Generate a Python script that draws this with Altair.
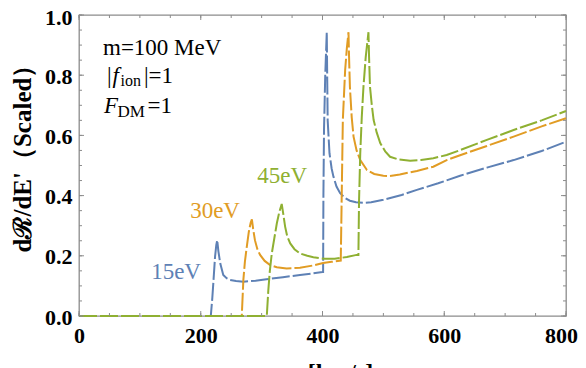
import altair as alt
import pandas as pd

# ---------------- data ----------------
series_names = ["15eV", "30eV", "45eV"]
series_colors = ["#5E81B5", "#E19C24", "#8FB032"]

blue_v = [0, 216.5, 219, 221, 223.5, 225.5, 227, 229, 232, 237, 243, 248, 258, 270, 290,
          308, 335, 363, 385, 400, 401, 401.5, 402.5, 404.5, 407, 407.7, 408.5, 411.5, 415,
          418, 423, 429, 437, 445, 455, 467, 480, 500, 530, 555, 590, 626, 670, 714, 760, 800]
blue_y = [0, 0, 0.06, 0.12, 0.197, 0.235, 0.252, 0.215, 0.175, 0.136, 0.125, 0.12, 0.116,
          0.114, 0.117, 0.122, 0.129, 0.136, 0.142, 0.146, 0.146, 0.40, 0.62, 0.80, 0.943,
          0.80, 0.65, 0.54, 0.49, 0.463, 0.43, 0.408, 0.392, 0.383, 0.378, 0.376, 0.378,
          0.386, 0.402, 0.419, 0.441, 0.466, 0.493, 0.518, 0.548, 0.579]

orange_v = [0, 267.4, 270, 272.5, 275.6, 279, 282, 284, 286, 289, 293, 297.5, 305, 314, 325,
            341, 363, 385, 401, 415, 430, 431.8, 433.4, 437.2, 440, 442.7, 443.5, 445, 448,
            451, 456, 462, 473, 485, 500, 510, 527, 555, 582, 604, 626, 670, 714, 760, 800]
orange_y = [0, 0, 0.12, 0.18, 0.23, 0.28, 0.31, 0.321, 0.29, 0.252, 0.222, 0.203, 0.183,
            0.169, 0.162, 0.158, 0.16, 0.168, 0.176, 0.18, 0.184, 0.43, 0.651, 0.817, 0.89,
            0.943, 0.87, 0.762, 0.66, 0.596, 0.55, 0.518, 0.485, 0.472, 0.466, 0.465, 0.47,
            0.482, 0.496, 0.518, 0.534, 0.565, 0.596, 0.63, 0.657]

green_v = [0, 308.5, 311, 313.5, 316.7, 321, 325, 329, 333, 335.5, 338.6, 342, 347, 354, 363,
           375, 385, 404, 420, 440, 456, 459, 460, 462, 464.5, 467.3, 471, 475.5, 476.5, 478,
           481, 484, 489, 495, 503, 511, 525, 544, 562, 582, 604, 626, 670, 714, 760, 800]
green_y = [0, 0, 0.086, 0.15, 0.208, 0.26, 0.308, 0.345, 0.372, 0.34, 0.297, 0.265, 0.241,
           0.222, 0.208, 0.2, 0.195, 0.19, 0.19, 0.196, 0.203, 0.203, 0.38, 0.54, 0.66, 0.762,
           0.86, 0.943, 0.86, 0.762, 0.7, 0.651, 0.61, 0.574, 0.547, 0.529, 0.52, 0.516, 0.518,
           0.524, 0.535, 0.551, 0.585, 0.618, 0.65, 0.681]

label_v = [159.4, 223.5, 333.7]
label_val = [0.146, 0.349, 0.465]

x_tick_labels = [0, 200, 400, 600, 800]
y_tick_labels = [0.0, 0.2, 0.4, 0.6, 0.8, 1.0]
x_minor = [0, 50, 100, 150, 200, 250, 300, 350, 400, 450, 500, 550, 600, 650, 700, 750, 800]
y_minor = [0.0, 0.05, 0.1, 0.15, 0.2, 0.25, 0.3, 0.35, 0.4, 0.45, 0.5, 0.55, 0.6, 0.65,
           0.7, 0.75, 0.8, 0.85, 0.9, 0.95, 1.0]

# ---------------- chart ----------------
W, H = 487, 301
GRAY = "#8c8c8c"
SERIF = "Liberation Serif"

rows = []
for name, vs, ys in [(series_names[0], blue_v, blue_y),
                     (series_names[1], orange_v, orange_y),
                     (series_names[2], green_v, green_y)]:
    for i, (a, b) in enumerate(zip(vs, ys)):
        rows.append({"series": name, "v": a, "val": b, "i": i})
df = pd.DataFrame(rows)

xscale = alt.Scale(domain=[0, 800], nice=False, zero=False)
yscale = alt.Scale(domain=[0, 1], nice=False)
cscale = alt.Scale(domain=series_names, range=series_colors)

xaxis = alt.Axis(values=x_tick_labels, format="d", title="v [km/s]",
                 titleX=252, titleY=44, titleBaseline="top", titleAlign="center",
                 labelOffset={"condition": {"test": "datum.value === 800", "value": -5},
                              "value": 0},
                 ticks=False, domain=False, grid=False, labelPadding=9, labelFlush=False)
yaxis = alt.Axis(values=y_tick_labels, format=".1f", title="dℛ/dE'（Scaled）",
                 titleX=-57, titleY=137, titleAngle=270, titleBaseline="middle",
                 titleAlign="center", titleFontSize=25,
                 labelOffset={"condition": {"test": "datum.value === 1", "value": 2},
                              "value": 1},
                 ticks=False, domain=False, grid=False, labelPadding=7, labelFlush=False)


def X():
    return alt.X("v:Q", scale=xscale, axis=xaxis)


def Y():
    return alt.Y("val:Q", scale=yscale, axis=yaxis)


lines = alt.Chart(df).mark_line(strokeWidth=2, strokeDash=[18, 3]).encode(
    x=X(), y=Y(),
    color=alt.Color("series:N", scale=cscale, legend=None),
    order=alt.Order("i:Q"),
)


def xticks(vals, y0, y1):
    return alt.Chart(pd.DataFrame({"v": vals})).mark_rule(color=GRAY, strokeWidth=1).encode(
        x=X(), y=alt.value(y0), y2=alt.value(y1))


def yticks(vals, x0, x1):
    return alt.Chart(pd.DataFrame({"val": vals})).mark_rule(color=GRAY, strokeWidth=1).encode(
        y=Y(), x=alt.value(x0), x2=alt.value(x1))


tick_layers = [
    xticks(x_minor, H, H - 3), xticks(x_tick_labels, H, H - 5),
    xticks(x_minor, 0, 3), xticks(x_tick_labels, 0, 5),
    yticks(y_minor, 0, 3), yticks(y_tick_labels, 0, 5),
    yticks(y_minor, W, W - 3), yticks(y_tick_labels, W, W - 5),
]

labels = alt.Chart(pd.DataFrame({"series": series_names, "v": label_v, "val": label_val})).mark_text(
    font=SERIF, fontSize=23, baseline="middle", align="center").encode(
    x=X(), y=Y(),
    text="series:N",
    color=alt.Color("series:N", scale=cscale, legend=None),
)


def piece(txt, x, y, size=23, style="normal"):
    return alt.Chart(pd.DataFrame({"t": [txt]})).mark_text(
        font=SERIF, fontSize=size, fontStyle=style, baseline="alphabetic", align="left",
        color="black").encode(x=alt.value(x), y=alt.value(y), text="t:N")


info = [
    piece("m=100 MeV", 24, 39.5),
    piece("|", 28, 67.7),
    piece("f", 33.5, 67.7, style="italic"),
    piece("ion", 41.5, 70.5, size=16),
    piece("|=1", 65, 67.7),
    piece("F", 25, 97.7, style="italic"),
    piece("DM", 38.5, 101.5, size=17),
    piece("=1", 68.5, 97.7),
]

chart = alt.layer(lines, *tick_layers, labels, *info).properties(
    width=W, height=H,
    autosize=alt.AutoSizeParams(type="none"),
    padding={"left": 71, "top": 7, "right": 12, "bottom": 52},
    background="white",
).configure_axis(
    labelFont=SERIF, labelFontWeight="bold", labelFontSize=22, labelColor="black",
    titleFont=SERIF, titleFontWeight="bold", titleFontSize=24, titleColor="black",
).configure_view(stroke=GRAY, strokeWidth=1.3)

chart.save("out.html", embed_options={"renderer": "svg", "actions": False})
